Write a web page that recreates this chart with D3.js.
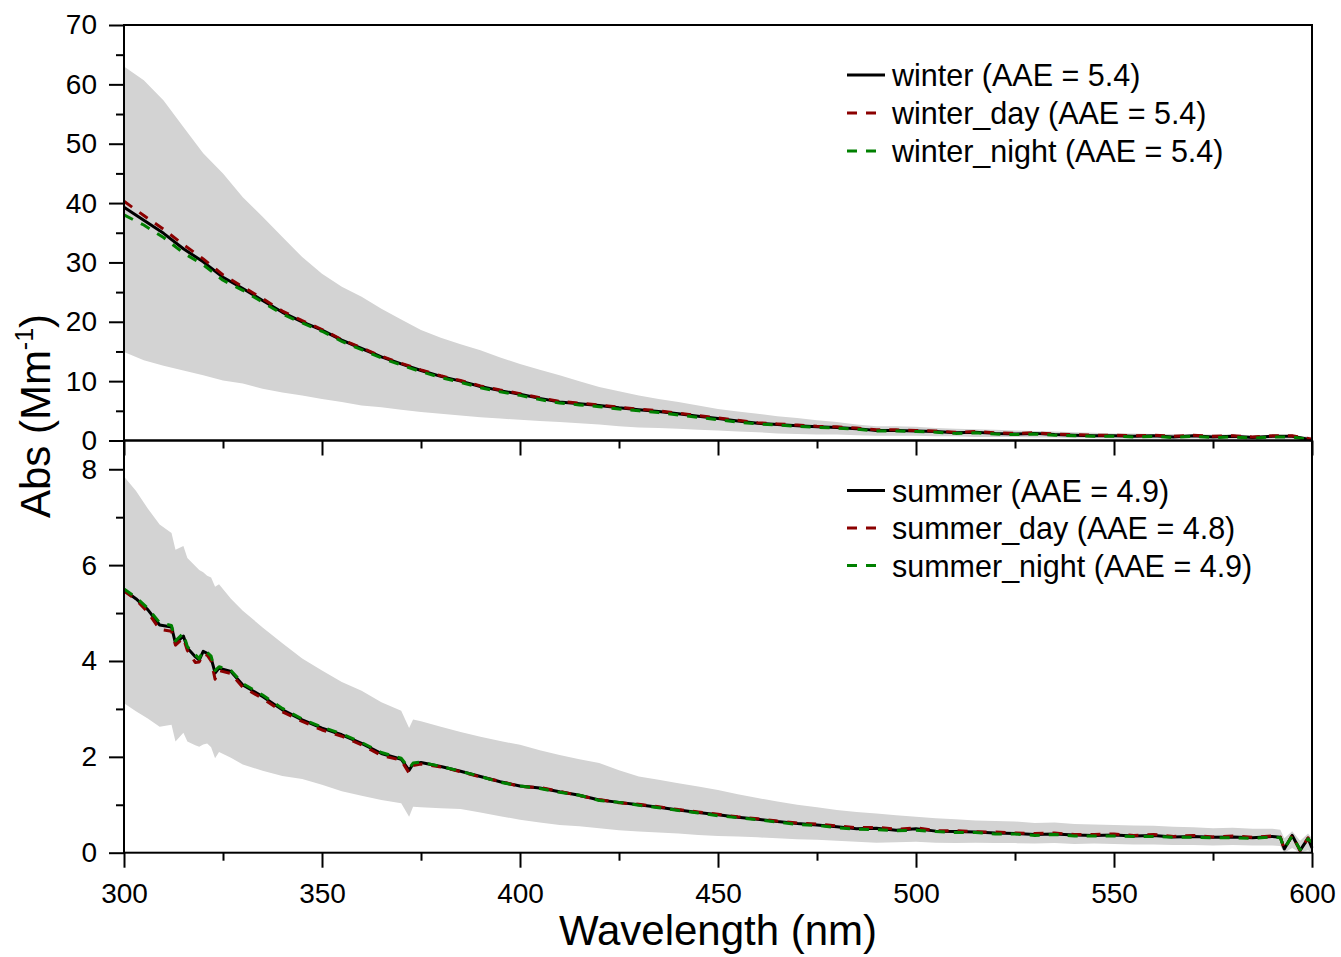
<!DOCTYPE html>
<html lang="en">
<head>
  <meta charset="UTF-8">
  <title>Abs spectra</title>
  <style>
    body { margin: 0; background: #fff; }
    text { font-family: Arial, "Liberation Sans", sans-serif; fill: #000; }
  </style>
</head>
<body>
  <div class="canvas"></div>
  <script src="https://cdnjs.cloudflare.com/ajax/libs/d3/7.8.5/d3.min.js"></script>
  <script>
// ---- data ----
const winterWl = [300,305,310,315,320,325,330,335,340,345,350,355,360,365,370,375,380,385,390,395,
  400,405,410,415,420,425,430,435,440,445,450,455,460,465,470,475,480,485,490,495,
  500,505,510,515,520,525,530,535,540,545,550,555,560,565,570,575,580,585,590,595,600];
const winterMean = [39.3,37.1,34.9,32.3,30.1,27.5,25.6,23.6,21.6,20.0,18.6,16.9,15.5,14.1,12.9,11.8,10.8,10.0,9.1,8.4,
  7.8,7.1,6.5,6.2,5.9,5.5,5.2,4.9,4.5,4.1,3.7,3.3,2.9,2.7,2.5,2.3,2.2,2.0,1.7,1.7,
  1.6,1.5,1.3,1.4,1.2,1.1,1.2,1.0,0.9,0.8,0.8,0.7,0.8,0.6,0.8,0.6,0.7,0.5,0.7,0.7,0.1];
const winterDay = [40.3,37.9,35.6,33.0,30.6,27.9,25.9,23.9,21.8,20.2,18.7,17.0,15.6,14.2,13.0,11.9,10.9,10.1,9.2,8.5,
  7.9,7.2,6.6,6.3,6.0,5.6,5.3,5.0,4.6,4.2,3.8,3.4,3.0,2.8,2.6,2.4,2.3,2.1,1.8,1.8,
  1.7,1.6,1.4,1.5,1.3,1.2,1.3,1.1,1.0,0.9,0.9,0.8,0.9,0.7,0.9,0.7,0.8,0.6,0.8,0.8,0.2];
const winterNight = [38.0,36.3,34.2,31.6,29.6,27.0,25.3,23.3,21.3,19.8,18.4,16.7,15.3,13.9,12.7,11.6,10.6,9.8,8.9,8.2,
  7.6,6.9,6.3,6.0,5.7,5.3,5.0,4.7,4.3,3.9,3.5,3.1,2.8,2.6,2.4,2.2,2.1,1.9,1.6,1.6,
  1.5,1.4,1.2,1.3,1.1,1.0,1.1,0.9,0.8,0.7,0.7,0.6,0.7,0.5,0.7,0.5,0.6,0.4,0.6,0.6,0.1];
const winterUpper = [63.0,60.7,57.3,52.8,48.4,45.0,41.0,37.7,34.3,30.9,28.1,25.9,24.2,22.2,20.4,18.6,17.3,16.2,15.2,14.0,
  12.9,11.9,11.0,10.0,9.0,8.3,7.6,7.0,6.5,5.9,5.3,4.9,4.5,4.1,3.8,3.4,3.1,2.7,2.4,2.4,
  2.3,2.1,2.0,1.9,1.8,1.7,1.6,1.5,1.4,1.3,1.2,1.2,1.1,1.1,1.0,1.0,1.0,0.9,0.9,0.9,0.6];
const winterLower = [14.9,13.5,12.6,11.8,11.0,10.1,9.6,8.7,8.1,7.6,7.0,6.5,5.9,5.6,5.2,4.8,4.5,4.2,3.9,3.7,
  3.5,3.3,3.1,2.9,2.7,2.4,2.2,2.1,2.0,1.8,1.7,1.5,1.4,1.2,1.1,1.0,1.0,0.9,0.8,0.8,
  0.8,0.7,0.7,0.6,0.6,0.6,0.5,0.5,0.4,0.4,0.3,0.3,0.3,0.3,0.3,0.3,0.2,0.2,0.2,0.2,0.0];

const summerWl = [300,303,306,309,312,313,315,316,318,319,320,321,322,323,324,327,330,
  335,340,345,350,355,360,365,370,372,373,375,
  380,385,390,395,400,405,410,415,420,425,430,435,440,445,450,455,460,465,470,475,480,485,490,495,
  500,505,510,515,520,525,530,535,540,545,550,555,560,565,570,575,580,585,590,592,593,595,597,599,600];
const summerMean = [5.48,5.30,5.07,4.75,4.71,4.37,4.52,4.27,4.09,4.02,4.20,4.16,4.06,3.75,3.85,3.78,3.50,
  3.26,2.98,2.77,2.60,2.46,2.28,2.07,1.95,1.72,1.85,1.88,
  1.80,1.70,1.59,1.48,1.39,1.35,1.27,1.20,1.10,1.05,1.00,0.95,0.89,0.84,0.79,0.74,0.70,0.65,0.61,0.58,0.54,0.50,0.51,0.47,
  0.50,0.45,0.44,0.43,0.41,0.40,0.38,0.39,0.37,0.36,0.37,0.35,0.36,0.33,0.34,0.32,0.33,0.31,0.34,0.32,0.08,0.36,0.05,0.30,0.10];
const summerDay = [5.46,5.28,5.02,4.66,4.62,4.33,4.48,4.22,3.97,3.98,4.15,4.12,4.00,3.62,3.80,3.74,3.45,
  3.22,2.94,2.74,2.56,2.43,2.25,2.03,1.93,1.66,1.82,1.85,
  1.79,1.69,1.58,1.49,1.38,1.36,1.28,1.19,1.11,1.04,1.01,0.96,0.90,0.85,0.80,0.75,0.71,0.66,0.62,0.60,0.56,0.52,0.53,0.49,
  0.52,0.46,0.46,0.44,0.43,0.41,0.40,0.41,0.38,0.38,0.39,0.36,0.38,0.34,0.36,0.33,0.35,0.32,0.35,0.33,0.07,0.37,0.04,0.31,0.12];
const summerNight = [5.50,5.33,5.10,4.80,4.74,4.42,4.58,4.30,4.13,4.05,4.22,4.18,4.10,3.80,3.88,3.80,3.53,
  3.29,3.01,2.79,2.62,2.48,2.30,2.09,1.97,1.76,1.87,1.89,
  1.80,1.70,1.59,1.47,1.39,1.34,1.26,1.20,1.09,1.05,0.99,0.94,0.88,0.83,0.77,0.73,0.69,0.64,0.59,0.57,0.52,0.49,0.48,0.46,
  0.47,0.44,0.42,0.42,0.39,0.39,0.36,0.38,0.35,0.35,0.35,0.34,0.34,0.32,0.32,0.31,0.31,0.30,0.33,0.31,0.09,0.35,0.06,0.29,0.22];
const summerUpper = [7.85,7.55,7.18,6.85,6.67,6.32,6.40,6.15,5.98,5.90,5.85,5.78,5.74,5.55,5.60,5.30,5.05,
  4.70,4.37,4.05,3.80,3.56,3.38,3.14,2.96,2.60,2.78,2.74,
  2.63,2.52,2.42,2.33,2.25,2.14,2.04,1.95,1.87,1.72,1.59,1.52,1.45,1.38,1.31,1.22,1.14,1.07,1.00,0.95,0.89,0.85,0.82,0.78,
  0.75,0.72,0.70,0.67,0.66,0.65,0.62,0.63,0.60,0.59,0.58,0.57,0.56,0.54,0.53,0.51,0.52,0.50,0.50,0.48,0.30,0.45,0.25,0.40,0.30];
const summerLower = [3.12,2.95,2.80,2.63,2.67,2.32,2.50,2.32,2.24,2.21,2.26,2.28,2.20,1.97,2.10,1.98,1.84,
  1.71,1.60,1.54,1.42,1.28,1.19,1.10,1.03,0.75,0.96,0.95,
  0.93,0.91,0.84,0.76,0.69,0.63,0.58,0.55,0.51,0.47,0.44,0.42,0.40,0.37,0.35,0.34,0.32,0.30,0.28,0.27,0.25,0.23,0.21,0.22,
  0.23,0.21,0.20,0.21,0.20,0.20,0.19,0.20,0.18,0.19,0.18,0.17,0.17,0.16,0.16,0.15,0.16,0.15,0.15,0.14,0.00,0.10,0.00,0.05,0.00];

const winterLabels = ['winter (AAE = 5.4)', 'winter_day (AAE = 5.4)', 'winter_night (AAE = 5.4)'];
const summerLabels = ['summer (AAE = 4.9)', 'summer_day (AAE = 4.8)', 'summer_night (AAE = 4.9)'];
const xTicks = [300, 350, 400, 450, 500, 550, 600];
const xMinorTicks = [325, 375, 425, 475, 525, 575];
const winterTicks = [0, 10, 20, 30, 40, 50, 60, 70];
const winterMinor = [5, 15, 25, 35, 45, 55, 65];
const summerTicks = [0, 2, 4, 6, 8];
const summerMinor = [1, 3, 5, 7];

// ---- layout ----
const width = 1341, height = 957;
const left = 124, right = 1312;
const topY = 25, midY = 440.5, bottomY = 852.7;

const svg = d3.select('.canvas')
  .append('svg')
    .attr('width', width)
    .attr('height', height);

const x = d3.scaleLinear().domain([300, 600]).range([left, right]);
const yTop = d3.scaleLinear().domain([0, 70]).range([midY, topY]);
const yBot = d3.scaleLinear().domain([0, 8.6]).range([bottomY, midY]);

const styles = [
  {color: '#000000', dash: null},
  {color: '#8b0000', dash: '10,9'},
  {color: '#008000', dash: '10,9'}
];

function drawPanel(wl, series, upper, lower, y, labels, legendY, legendStep) {
  const band = wl.map((w, i) => ({w: w, lo: lower[i], hi: upper[i]}));
  const area = d3.area()
    .x(d => x(d.w))
    .y0(d => y(d.lo))
    .y1(d => y(d.hi));

  svg.append('path')
    .datum(band)
    .attr('d', area)
    .attr('fill', '#d3d3d3');

  const line = d3.line()
    .x(d => x(d.w))
    .y(d => y(d.v));

  series.forEach((vals, k) => {
    svg.append('path')
      .datum(wl.map((w, i) => ({w: w, v: vals[i]})))
      .attr('d', line)
      .attr('fill', 'none')
      .attr('stroke', styles[k].color)
      .attr('stroke-width', 3)
      .attr('stroke-dasharray', styles[k].dash)
      .attr('stroke-linejoin', 'round');
  });

  // legend
  const lg = svg.append('g');
  labels.forEach((lab, k) => {
    const ly = legendY + k * legendStep;
    lg.append('line')
      .attr('x1', 847).attr('x2', 885)
      .attr('y1', ly).attr('y2', ly)
      .attr('stroke', styles[k].color)
      .attr('stroke-width', 3)
      .attr('stroke-dasharray', styles[k].dash);
    lg.append('text')
      .attr('x', 892)
      .attr('y', ly + 11)
      .attr('font-size', 30.5)
      .text(lab);
  });
}

drawPanel(winterWl, [winterMean, winterDay, winterNight], winterUpper, winterLower,
  yTop, winterLabels, 75, 38);
drawPanel(summerWl, [summerMean, summerDay, summerNight], summerUpper, summerLower,
  yBot, summerLabels, 490.5, 37.5);

// ---- axes ----
function styleAxis(g) {
  g.select('.domain').remove();
  g.selectAll('line').attr('stroke', '#000').attr('stroke-width', 2);
  g.selectAll('text').attr('font-size', 28).attr('fill', '#000')
    .style('font-family', 'Arial, "Liberation Sans", sans-serif');
}

// y axes
[[yTop, winterTicks, winterMinor], [yBot, summerTicks, summerMinor]].forEach(([y, major, minor]) => {
  svg.append('g')
    .attr('transform', `translate(${left}, 0)`)
    .call(d3.axisLeft(y).tickValues(major).tickSize(15).tickPadding(12))
    .call(styleAxis);
  svg.append('g')
    .attr('transform', `translate(${left}, 0)`)
    .call(d3.axisLeft(y).tickValues(minor).tickSize(8).tickFormat(''))
    .call(styleAxis);
});

// x axes: middle (no labels) and bottom
svg.append('g')
  .attr('transform', `translate(0, ${midY})`)
  .call(d3.axisBottom(x).tickValues(xTicks).tickSize(15).tickFormat(''))
  .call(styleAxis);
svg.append('g')
  .attr('transform', `translate(0, ${midY})`)
  .call(d3.axisBottom(x).tickValues(xMinorTicks).tickSize(8).tickFormat(''))
  .call(styleAxis);
svg.append('g')
  .attr('transform', `translate(0, ${bottomY})`)
  .call(d3.axisBottom(x).tickValues(xTicks).tickSize(15).tickPadding(15))
  .call(styleAxis);
svg.append('g')
  .attr('transform', `translate(0, ${bottomY})`)
  .call(d3.axisBottom(x).tickValues(xMinorTicks).tickSize(8).tickFormat(''))
  .call(styleAxis);

// frames
svg.append('rect')
  .attr('x', left).attr('y', topY)
  .attr('width', right - left).attr('height', midY - topY)
  .attr('fill', 'none').attr('stroke', '#000').attr('stroke-width', 2);
svg.append('rect')
  .attr('x', left).attr('y', midY)
  .attr('width', right - left).attr('height', bottomY - midY)
  .attr('fill', 'none').attr('stroke', '#000').attr('stroke-width', 2);

// titles
svg.append('text')
  .attr('x', (left + right) / 2)
  .attr('y', 945)
  .attr('text-anchor', 'middle')
  .attr('font-size', 42)
  .text('Wavelength (nm)');

const yTitle = svg.append('text')
  .attr('transform', 'translate(50, 416) rotate(-90)')
  .attr('text-anchor', 'middle')
  .attr('font-size', 42);
yTitle.append('tspan').text('Abs (Mm');
yTitle.append('tspan').attr('font-size', 25).attr('dy', -17).text('-1');
yTitle.append('tspan').attr('dy', 17).text(')');
  </script>
</body>
</html>
